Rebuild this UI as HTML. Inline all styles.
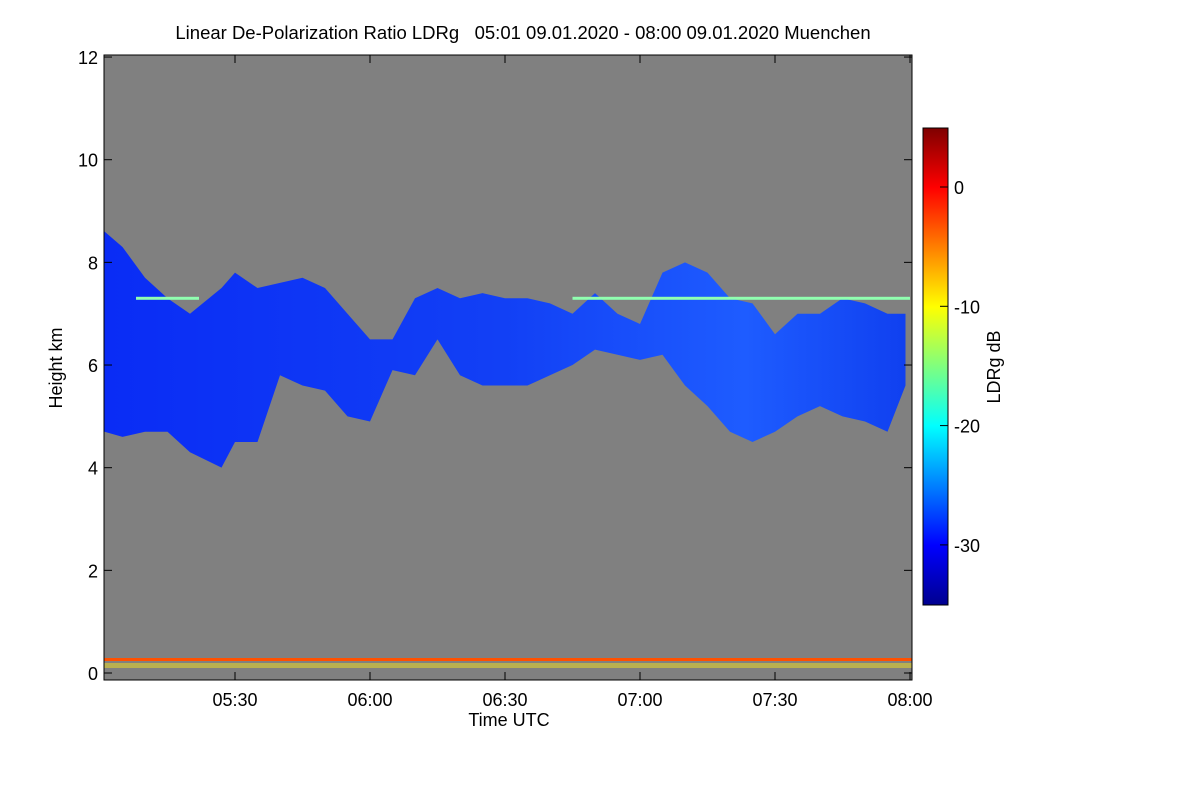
<!DOCTYPE html>
<html><head><meta charset="utf-8"><style>
body{margin:0;background:#fff;width:1200px;height:800px;overflow:hidden;font-family:"Liberation Sans",sans-serif}
svg text{font-family:"Liberation Sans",sans-serif;fill:#000}
</style></head><body>
<svg id="chart" width="1200" height="800" xmlns="http://www.w3.org/2000/svg">
<defs>
<linearGradient id="jet" x1="0" y1="1" x2="0" y2="0">
<stop offset="0" stop-color="#00008f"/><stop offset="0.125" stop-color="#0000ff"/>
<stop offset="0.375" stop-color="#00ffff"/><stop offset="0.5" stop-color="#7fff7f"/>
<stop offset="0.625" stop-color="#ffff00"/><stop offset="0.875" stop-color="#ff0000"/>
<stop offset="1" stop-color="#7f0000"/></linearGradient>
<linearGradient id="cloudfill" x1="0" y1="0" x2="1" y2="0">
<stop offset="0" stop-color="#0a2cf5"/><stop offset="0.5" stop-color="#1240f5"/><stop offset="0.8" stop-color="#1e5cff"/><stop offset="1" stop-color="#1040f0"/></linearGradient>
</defs>
<text x="523" y="39" font-size="18.5" text-anchor="middle" xml:space="preserve">Linear De-Polarization Ratio LDRg   05:01 09.01.2020 - 08:00 09.01.2020 Muenchen</text>
<rect x="104" y="55" width="808" height="625" fill="#808080"/>
<g id="marks"></g>
<rect x="104" y="55" width="808" height="625" fill="none" stroke="#000" stroke-width="1"/>
<g id="axes"></g>
<text transform="translate(62,368) rotate(-90)" font-size="18" text-anchor="middle">Height km</text>
<text x="509" y="726" font-size="18" text-anchor="middle">Time UTC</text>
<rect x="923" y="128" width="25" height="477" fill="url(#jet)" stroke="#000"/>
<g id="cbaxis"></g>
<text transform="translate(1000,367) rotate(-90)" font-size="18" text-anchor="middle">LDRg dB</text>
</svg>
<script>
const yTicks=[0,2,4,6,8,10,12];
const xTickMin=[30,60,90,120,150,180];
const xTickLabels=["05:30","06:00","06:30","07:00","07:30","08:00"];
const cbTicks=[0,-10,-20,-30];
const cloudMin=[1,5,10,15,20,27,30,35,40,45,50,55,60,65,70,75,80,85,90,95,100,105,110,115,120,125,130,135,140,145,150,155,160,165,170,175,179];
const cloudTop=[8.6,8.3,7.7,7.3,7.0,7.5,7.8,7.5,7.6,7.7,7.5,7.0,6.5,6.5,7.3,7.5,7.3,7.4,7.3,7.3,7.2,7.0,7.4,7.0,6.8,7.8,8.0,7.8,7.3,7.2,6.6,7.0,7.0,7.3,7.2,7.0,7.0];
const cloudBase=[4.7,4.6,4.7,4.7,4.3,4.0,4.5,4.5,5.8,5.6,5.5,5.0,4.9,5.9,5.8,6.5,5.8,5.6,5.6,5.6,5.8,6.0,6.3,6.2,6.1,6.2,5.6,5.2,4.7,4.5,4.7,5.0,5.2,5.0,4.9,4.7,5.6];
const streakStart=[8,105];const streakEnd=[22,180];const streakH=[7.3,7.3];
const X=m=>100+4.5*m, Y=h=>673-51.33*h, CB=v=>187-11.93*v;
const NS='http://www.w3.org/2000/svg';
function mk(t,a,p){const e=document.createElementNS(NS,t);for(const k in a)e.setAttribute(k,a[k]);p.appendChild(e);return e;}
const marks=document.getElementById('marks'),axes=document.getElementById('axes'),cb=document.getElementById('cbaxis');
let pts=cloudMin.map((m,i)=>X(m)+','+Y(cloudTop[i]));
for(let i=cloudMin.length-1;i>=0;i--)pts.push(X(cloudMin[i])+','+Y(cloudBase[i]));
const cl=mk('polygon',{points:pts.join(' '),fill:'url(#cloudfill)'},marks);


streakStart.forEach((s,i)=>{const r=mk('rect',{x:X(s),y:Y(streakH[i])-1.5,width:X(streakEnd[i])-X(s),height:3,fill:'#90ffb0'},marks);

});
const b1=mk('rect',{x:104,y:658,width:808,height:3,fill:'#ff5000'},marks);


const b2=mk('rect',{x:104,y:663,width:808,height:5,fill:'#e0d030',opacity:0.6},marks);


yTicks.forEach(v=>{const y=Y(v);
mk('line',{x1:104,x2:112,y1:y,y2:y,stroke:'#000'},axes);mk('line',{x1:904,x2:912,y1:y,y2:y,stroke:'#000'},axes);
const t=mk('text',{x:98,y:y+7,'font-size':18,'text-anchor':'end'},axes);t.textContent=v;

});
xTickMin.forEach((m,i)=>{const x=X(m);
mk('line',{x1:x,x2:x,y1:680,y2:672,stroke:'#000'},axes);mk('line',{x1:x,x2:x,y1:55,y2:63,stroke:'#000'},axes);
const t=mk('text',{x:x,y:706,'font-size':18,'text-anchor':'middle'},axes);t.textContent=xTickLabels[i];

});
cbTicks.forEach(v=>{const y=CB(v);mk('line',{x1:940,x2:948,y1:y,y2:y,stroke:'#000'},cb);
const t=mk('text',{x:954,y:y+7,'font-size':18},cb);t.textContent=v;

});
</script>
</body></html>
